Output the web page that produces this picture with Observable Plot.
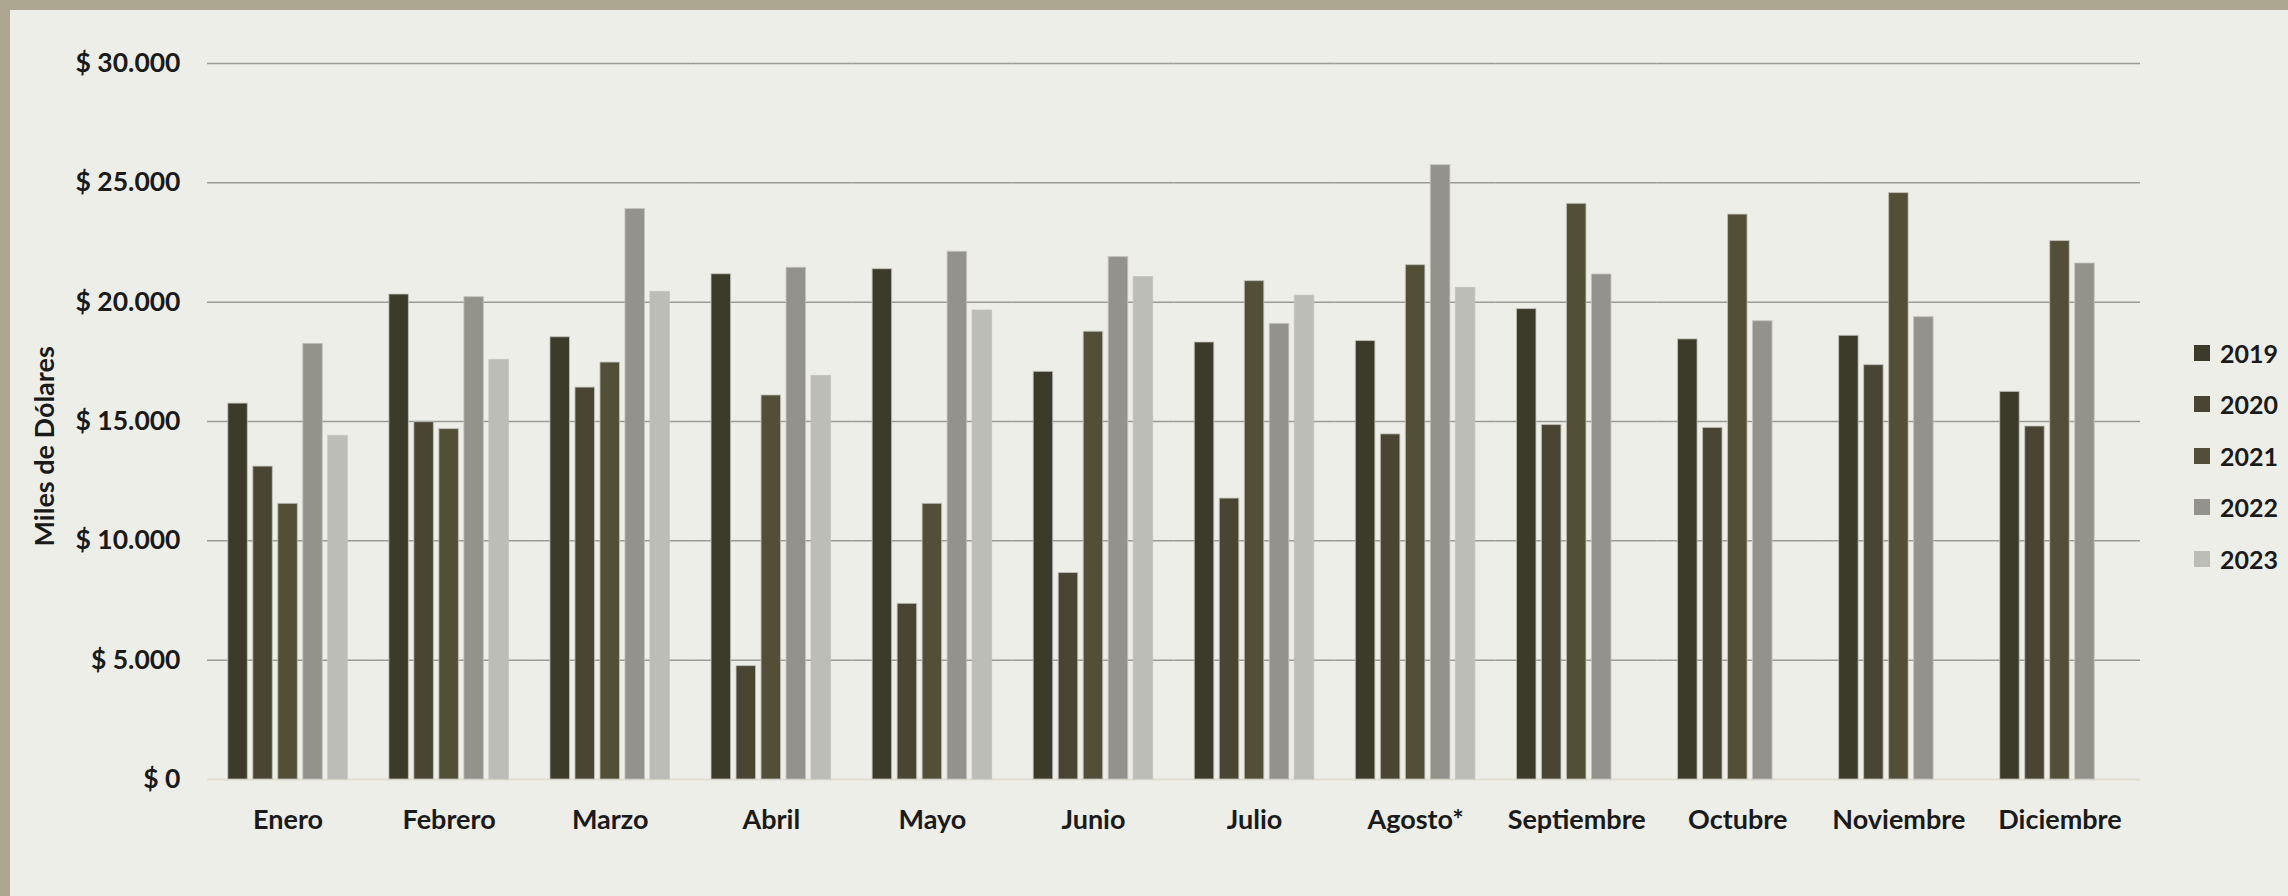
<!DOCTYPE html>
<html>
<head>
<meta charset="utf-8">
<script src="https://cdn.jsdelivr.net/npm/d3@7"></script>
<script src="https://cdn.jsdelivr.net/npm/@observablehq/plot@0.6"></script>
<style>
  html, body { margin: 0; padding: 0; }
  body { width: 2288px; height: 896px; background: #ada792; overflow: hidden; font-family: Lato, "Open Sans", sans-serif; }
  #panel { position: absolute; left: 10px; top: 10px; width: 2278px; height: 886px; background: #edeee8; }
  #chart { position: absolute; left: 0; top: 0; }
  #legend { position: absolute; left: 2184px; top: 317px; }
  .item { display: flex; align-items: center; height: 51.5px; }
  .sw { width: 16px; height: 16px; margin-right: 10px; }
  .lb { font-family: Lato, sans-serif; font-weight: 700; font-size: 25px; color: #1a1a1a; }
</style>
</head>
<body>
<div id="panel">
  <div id="chart"></div>
  <div id="legend"></div>
</div>
<script>
const months = ["Enero","Febrero","Marzo","Abril","Mayo","Junio","Julio","Agosto*","Septiembre","Octubre","Noviembre","Diciembre"];
const years = ["2019","2020","2021","2022","2023"];
const colors = ["#3c3a28","#4a4432","#534e36","#93938b","#bdbdb8"];
const yTicks = [0, 5000, 10000, 15000, 20000, 25000, 30000];
const v2019 = [15750, 20320, 18530, 21170, 21380, 17080, 18310, 18370, 19710, 18440, 18590, 16240];
const v2020 = [13110, 14970, 16420, 4750, 7360, 8650, 11770, 14460, 14850, 14730, 17360, 14790];
const v2021 = [11550, 14680, 17470, 16090, 11550, 18760, 20880, 21550, 24120, 23670, 24570, 22560];
const v2022 = [18250, 20210, 23900, 21440, 22110, 21890, 19090, 25740, 21160, 19200, 19370, 21620];
const v2023 = [14400, 17580, 20430, 16910, 19650, 21050, 20270, 20600, null, null, null, null];
const series = [v2019, v2020, v2021, v2022, v2023];

const data = [];
months.forEach((m, i) => {
  years.forEach((y, j) => {
    const v = series[j][i];
    if (v != null) data.push({month: m, year: y, value: v});
  });
});

const fmt = d => "$ " + d3.format(",")(d).replace(/,/g, ".");

const chart = Plot.plot({
  width: 2278,
  height: 886,
  marginLeft: 197,
  marginRight: 148,
  marginTop: 53,
  marginBottom: 117,
  style: {fontFamily: "Lato, sans-serif", fontSize: "25px", fontWeight: 700, color: "#1a1a1a", background: "transparent", overflow: "visible"},
  fx: {domain: months, padding: 0, round: false, label: null},
  x: {domain: years, paddingInner: 0.22, paddingOuter: 0.832, round: false, axis: null},
  y: {domain: [0, 30000], label: null},
  color: {domain: years, range: colors},
  marks: [
    Plot.gridY(yTicks.filter(d => d > 0), {stroke: "#9b9b95", strokeOpacity: 1, strokeWidth: 1.5}),
    Plot.ruleY([0], {stroke: "#e2ded2", strokeWidth: 2}),
    Plot.barY(data, {fx: "month", x: "year", y: "value", fill: "year", stroke: "#c2c2ba", strokeWidth: 1, strokeOpacity: 0.8}),
    Plot.axisY({ticks: yTicks, tickFormat: fmt, tickSize: 0, tickPadding: 27, label: null, fontSize: 26.5}),
    Plot.axisFx({anchor: "bottom", tickSize: 0, tickPadding: 30, label: null, fontSize: 27}),
    Plot.text(["Miles de Dólares"], {fx: ["Enero"], frameAnchor: "left", rotate: -90, dx: -162, dy: 125, fontSize: 27, fontWeight: 700, fill: "#1a1a1a"})
  ]
});
document.getElementById("chart").appendChild(chart);

const legend = document.getElementById("legend");
years.forEach((y, i) => {
  const it = document.createElement("div");
  it.className = "item";
  it.innerHTML = `<div class="sw" style="background:${colors[i]}"></div><div class="lb">${y}</div>`;
  legend.appendChild(it);
});
</script>
</body>
</html>
